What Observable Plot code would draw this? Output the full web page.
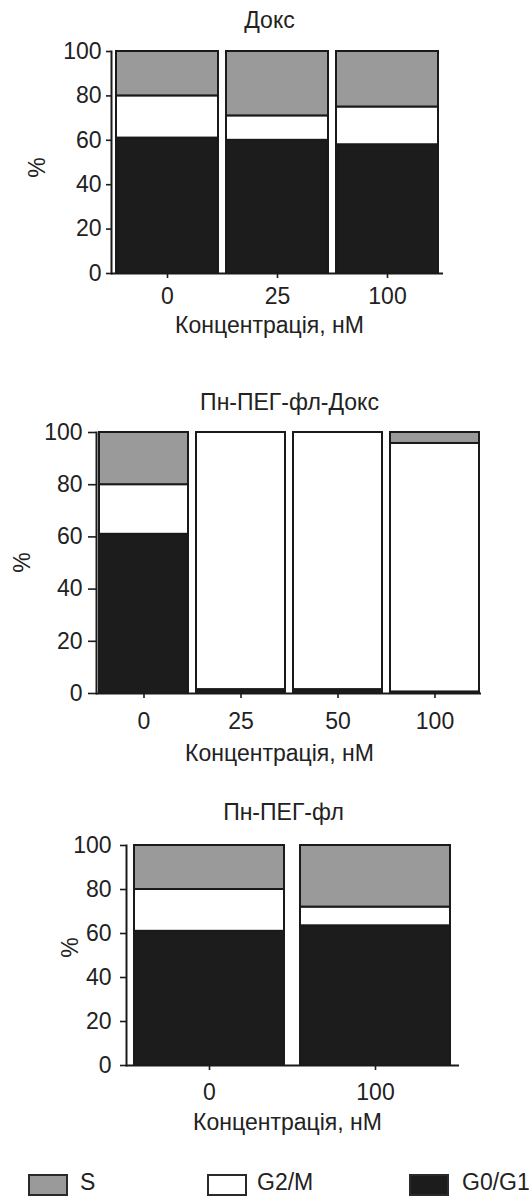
<!DOCTYPE html>
<html><head><meta charset="utf-8">
<script src="https://cdn.jsdelivr.net/npm/d3@7"></script>
<script src="https://cdn.jsdelivr.net/npm/@observablehq/plot@0.6"></script>
<style>
body{margin:0;background:#fff;}
#wrap{position:relative;width:531px;height:1198px;overflow:hidden;font-family:"Liberation Sans",Arial,sans-serif;color:#222;background:#fff;}
.panel{position:absolute;left:0;}
.sw{position:absolute;top:1174px;width:40px;height:22px;box-sizing:border-box;border:2px solid #2a2a2a;}
.lt{position:absolute;top:1171px;font-size:23px;line-height:22px;white-space:nowrap;}
</style></head><body><div id="wrap"></div>
<script>
// ---- data ----
const phases = ["S", "G2/M", "G0/G1"];
const phaseColors = ["#9a9a9a", "#ffffff", "#1c1c1c"];
const stackOrder = ["G0/G1", "G2/M", "S"];
const yTicks = [0, 20, 40, 60, 80, 100];
const xLabel = "Концентрація, нМ";
const yLabel = "%";

const doxTitle = "Докс";
const doxConc = ["0", "25", "100"];
const doxG0G1 = [61, 60, 58];
const doxG2M = [19, 11, 17];
const doxS = [20, 29, 25];

const conjTitle = "Пн-ПЕГ-фл-Докс";
const conjConc = ["0", "25", "50", "100"];
const conjG0G1 = [61, 1.5, 1.5, 0.6];
const conjG2M = [19, 98.5, 98.5, 95.2];
const conjS = [20, 0, 0, 4.2];

const carrTitle = "Пн-ПЕГ-фл";
const carrConc = ["0", "100"];
const carrG0G1 = [61, 63.5];
const carrG2M = [19, 8.5];
const carrS = [20, 28];

// ---- layout ----
const FONT = '"Liberation Sans", Arial, sans-serif';
const INK = "#1a1a1a";
const FS = 23;

function panel(title, conc, g01, g2m, s, L) {
  const rows = [];
  conc.forEach((c, i) => {
    rows.push({conc: c, phase: "G0/G1", value: g01[i]});
    rows.push({conc: c, phase: "G2/M", value: g2m[i]});
    rows.push({conc: c, phase: "S", value: s[i]});
  });
  const at = (x, y) => ({frameAnchor: "top-left", dx: x - L.ml, dy: y - L.mt});
  const svg = Plot.plot({
    width: 531, height: L.h,
    marginLeft: L.ml, marginRight: L.mr, marginTop: L.mt, marginBottom: L.mb,
    style: {fontFamily: FONT, fontSize: FS + "px", color: "#222", background: "transparent", overflow: "visible"},
    x: {domain: conc, paddingInner: L.pi, paddingOuter: L.po, axis: null},
    y: {domain: [0, 100], axis: null},
    color: {domain: phases, range: phaseColors},
    marks: [
      Plot.barY(rows, {x: "conc", y: "value", fill: "phase", stroke: INK, strokeWidth: 2, order: stackOrder}),
      Plot.ruleY([0], {stroke: INK, strokeWidth: 2}),
      Plot.frame({anchor: "left", stroke: INK, strokeWidth: 2}),
      Plot.axisY({ticks: yTicks, tickSize: L.yts, tickPadding: L.ytp, fontSize: FS, strokeWidth: 1.6, stroke: INK, fill: "#222", label: null}),
      Plot.axisX({tickSize: 5, tickPadding: L.xtp, fontSize: FS, strokeWidth: 1.6, stroke: INK, fill: "#222", label: null}),
      Plot.text([title], {text: d => d, ...at(L.tx, L.ty), fontSize: FS, textAnchor: "middle", lineAnchor: "middle", fill: "#222"}),
      Plot.text([xLabel], {text: d => d, ...at(L.lx, L.ly), fontSize: FS, textAnchor: "middle", lineAnchor: "middle", fill: "#222"}),
      Plot.text([yLabel], {text: d => d, ...at(L.px, L.py), fontSize: FS, rotate: -90, textAnchor: "middle", lineAnchor: "middle", fill: "#222"})
    ]
  });
  svg.classList.add("panel");
  svg.style.top = L.top + "px";
  return svg;
}

const wrap = document.getElementById("wrap");
wrap.appendChild(panel(doxTitle, doxConc, doxG0G1, doxG2M, doxS, {
  top: 0, h: 345, ml: 111, mr: 88, mt: 51, mb: 72, pi: 0.075, po: 0.036,
  yts: 5, ytp: 5, xtp: 9, tx: 269, ty: 20, lx: 269, ly: 325, px: 37, py: 167
}));
wrap.appendChild(panel(conjTitle, conjConc, conjG0G1, conjG2M, conjS, {
  top: 370, h: 400, ml: 96, mr: 50, mt: 62, mb: 77, pi: 0.085, po: 0.02,
  yts: 8, ytp: 6, xtp: 14, tx: 289, ty: 32, lx: 279, ly: 383, px: 22, py: 192
}));
wrap.appendChild(panel(carrTitle, carrConc, carrG0G1, carrG2M, carrS, {
  top: 790, h: 360, ml: 126, mr: 72, mt: 55, mb: 85, pi: 0.094, po: 0.05,
  yts: 6, ytp: 9, xtp: 13, tx: 283, ty: 22, lx: 287, ly: 332, px: 70, py: 157
}));

// ---- legend ----
const legX = [[28, 80], [207, 257], [409, 462]];
phases.forEach((p, i) => {
  const sw = document.createElement("div");
  sw.className = "sw";
  sw.style.left = legX[i][0] + "px";
  sw.style.background = phaseColors[i];
  wrap.appendChild(sw);
  const t = document.createElement("div");
  t.className = "lt";
  t.style.left = legX[i][1] + "px";
  t.textContent = p;
  wrap.appendChild(t);
});
</script></body></html>
